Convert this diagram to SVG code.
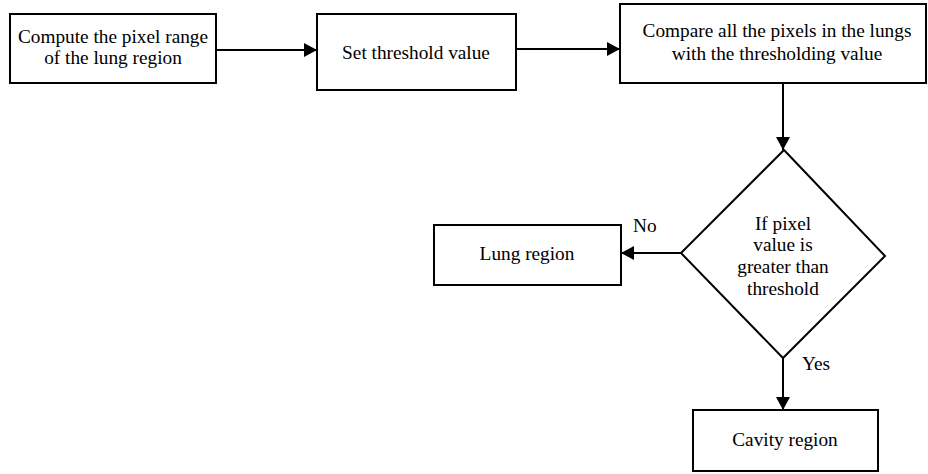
<svg xmlns="http://www.w3.org/2000/svg" width="928" height="474" viewBox="0 0 928 474">
<style>
.n{fill:#fff;stroke:#000;stroke-width:2}
.t{font-family:"Liberation Serif","Times New Roman",serif;font-size:19.3px;fill:#000;text-anchor:middle}
.l{font-family:"Liberation Serif","Times New Roman",serif;font-size:19.3px;fill:#000}
.c{fill:none;stroke:#000;stroke-width:2}
</style>
<defs>
<marker id="ah" viewBox="0 0 13 14" refX="13" refY="7" markerWidth="13" markerHeight="14" markerUnits="userSpaceOnUse" orient="auto">
<path d="M0,0 L13,7 L0,14 Z" fill="#000"/>
</marker>
</defs>
<g id="connectors">
<line class="c" x1="216" y1="50" x2="317" y2="50" marker-end="url(#ah)"/>
<line class="c" x1="516" y1="49" x2="620" y2="49" marker-end="url(#ah)"/>
<line class="c" x1="783" y1="83" x2="783" y2="150" marker-end="url(#ah)"/>
<line class="c" x1="681" y1="253" x2="621" y2="253" marker-end="url(#ah)"/>
<line class="c" x1="783" y1="358" x2="783" y2="410" marker-end="url(#ah)"/>
<text class="l" x="633" y="232">No</text>
<text class="l" x="802" y="370">Yes</text>
</g>
<g id="n1">
<rect class="n" x="10" y="14" width="206" height="69"/>
<text class="t" x="113" y="43">Compute the pixel range</text>
<text class="t" x="113" y="64">of the lung region</text>
</g>
<g id="n2">
<rect class="n" x="317" y="14" width="199" height="76"/>
<text class="t" x="416" y="59">Set threshold value</text>
</g>
<g id="n3">
<rect class="n" x="620" y="4" width="306" height="79"/>
<text class="t" x="777" y="37">Compare all the pixels in the lungs</text>
<text class="t" x="777" y="60">with the thresholding value</text>
</g>
<g id="n4">
<polygon class="n" points="784,150 885,256 783,358 681,253"/>
<text class="t" x="783" y="230">If pixel</text>
<text class="t" x="783" y="251">value is</text>
<text class="t" x="783" y="273">greater than</text>
<text class="t" x="783" y="295">threshold</text>
</g>
<g id="n5">
<rect class="n" x="434" y="225" width="187" height="60"/>
<text class="t" x="527" y="260">Lung region</text>
</g>
<g id="n6">
<rect class="n" x="693" y="410" width="185" height="61"/>
<text class="t" x="785" y="446">Cavity region</text>
</g>
</svg>
